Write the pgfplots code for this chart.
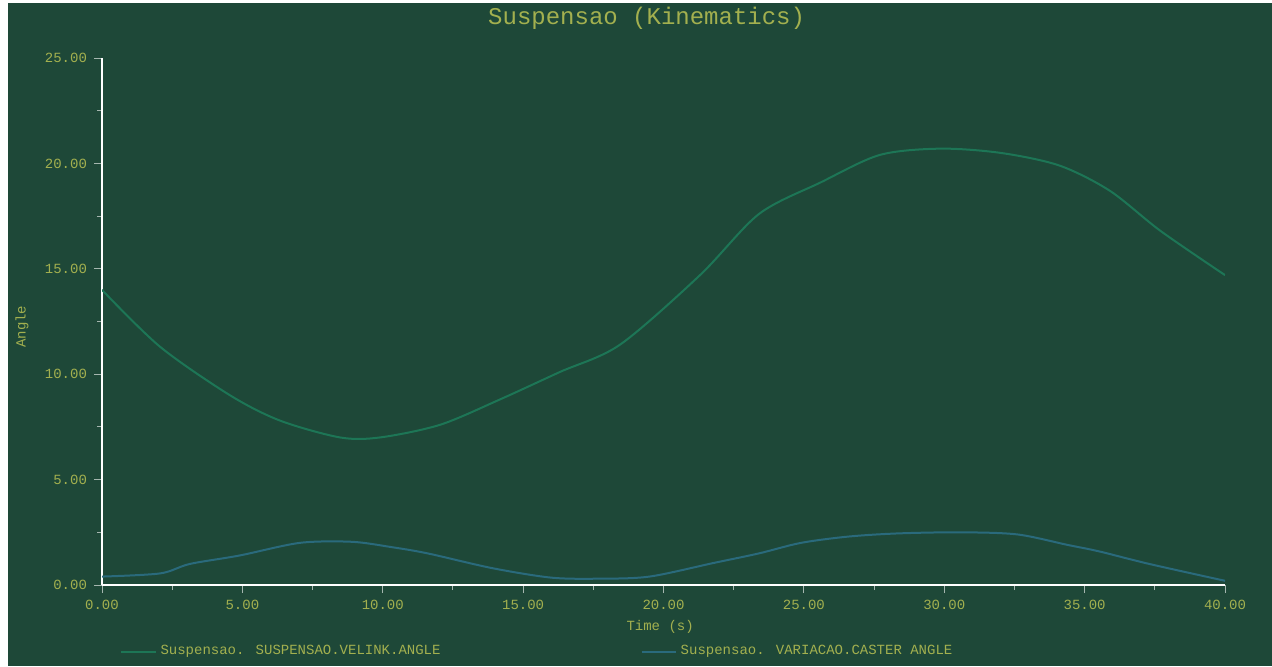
\documentclass[border=0pt]{standalone}
\usepackage{fontspec}
\setmainfont{Liberation Mono}
\usepackage{pgfplots}
\pgfplotsset{compat=1.18}
\definecolor{bg}{HTML}{1E4838}
\definecolor{txt}{HTML}{A3B04F}
\definecolor{gline}{HTML}{1D7656}
\definecolor{bline}{HTML}{2A6A7C}
\begin{document}
\begin{tikzpicture}
\fill[white] (0,0) rectangle (636pt,333pt);
\fill[bg] (4pt,0) rectangle (636pt,331.5pt);
\begin{axis}[
  at={(51pt,40.5pt)}, anchor=south west,
  scale only axis, width=561.5pt, height=263.5pt,
  xmin=0, xmax=40, ymin=0, ymax=25,
  axis lines*=left,
  axis line style={white, line width=1pt},
  xtick={0,5,...,40}, ytick={0,5,...,25},
  minor x tick num=1, minor y tick num=1,
  tick align=outside,
  tick style={white!60!bg, line width=0.5pt},
  major tick length=4pt, minor tick length=2.5pt,
  /pgf/number format/assume math mode=true,
  /pgf/number format/.cd, fixed, fixed zerofill, precision=2, /pgfplots/.cd,
  tick label style={font=\fontsize{7}{8}\selectfont, text=txt},
  title={Suspensao (Kinematics)},
  title style={at={(0.485,1)}, anchor=center, yshift=14pt, font=\fontsize{12}{13}\selectfont, text=txt},
  xlabel={Time (s)},
  xlabel style={at={(0.497,0)}, anchor=center, yshift=-21pt, font=\fontsize{7}{8}\selectfont, text=txt},
  ylabel={Angle},
  ylabel style={at={(0,0.49)}, anchor=center, yshift=40pt, font=\fontsize{7}{8}\selectfont, text=txt},
  legend columns=2,
  legend style={at={(0,0)}, anchor=north west, xshift=6pt, yshift=-26pt,
    draw=none, fill=none, font=\fontsize{7}{8}\selectfont, text=txt,
    /tikz/every even column/.append style={column sep=98pt}},
]
\addplot[gline, line width=1pt, smooth] coordinates {
(0,14.0) (2.07,11.3) (4.56,9.0) (6.34,7.8) (8.48,7.0) (9.9,7.0) (12.04,7.6)
(14.17,8.8) (16.3,10.1) (18.45,11.4) (21.3,14.7) (23.4,17.6) (25.6,19.1)
(27.7,20.4) (29.85,20.7) (32.0,20.5) (34.1,19.9) (35.9,18.7) (37.7,16.8) (40,14.7)
};
\addlegendentry{Suspensao. SUSPENSAO.VELINK.ANGLE}
\addplot[bline, line width=1pt, smooth] coordinates {
(0,0.4) (2.07,0.55) (3.13,1.0) (4.9,1.4) (7.05,2.0) (8.9,2.05) (10.3,1.8)
(11.6,1.5) (13.9,0.8) (16.0,0.35) (17.7,0.3) (19.5,0.4) (21.8,1.05) (23.4,1.5)
(24.9,2.0) (26.6,2.3) (28.4,2.45) (30.6,2.5) (32.6,2.4) (34.4,1.9) (35.5,1.6)
(37.3,1.0) (40,0.2)
};
\addlegendentry{Suspensao. VARIACAO.CASTER ANGLE}
\end{axis}
\end{tikzpicture}
\end{document}
